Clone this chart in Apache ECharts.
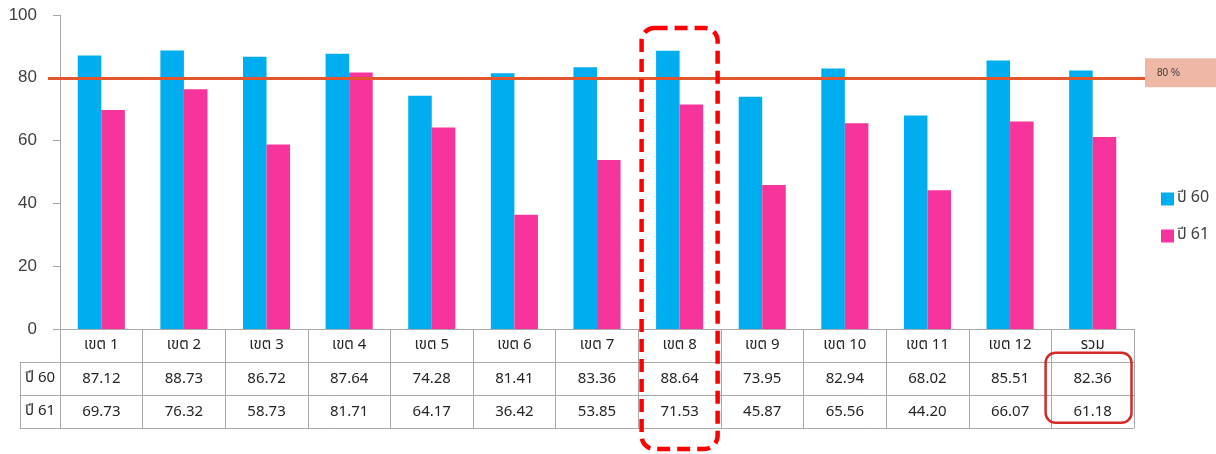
<!DOCTYPE html>
<html>
<head>
<meta charset="utf-8">
<script src="https://cdn.jsdelivr.net/npm/echarts@6/dist/echarts.min.js"></script>
<style>
  html, body { margin: 0; padding: 0; background: #fff; }
  #chart { width: 1216px; height: 454px; }
</style>
</head>
<body>
<div id="chart"></div>
<script>
// Zones and yearly percentages
const categories = ['เขต 1', 'เขต 2', 'เขต 3', 'เขต 4', 'เขต 5', 'เขต 6', 'เขต 7',
                    'เขต 8', 'เขต 9', 'เขต 10', 'เขต 11', 'เขต 12', 'รวม'];
const seriesNames = ['ปี 60', 'ปี 61'];
const values60 = [87.12, 88.73, 86.72, 87.64, 74.28, 81.41, 83.36, 88.64, 73.95, 82.94, 68.02, 85.51, 82.36];
const values61 = [69.73, 76.32, 58.73, 81.71, 64.17, 36.42, 53.85, 71.53, 45.87, 65.56, 44.20, 66.07, 61.18];
const targetValue = 80;
const targetLabel = '80 %';
const yTicks = [0, 20, 40, 60, 80, 100];

const thaiFont = "Tahoma, 'Noto Sans Thai', 'Noto Sans', 'DejaVu Sans', sans-serif";
const numFont = "'Noto Sans', Tahoma, sans-serif";
const border = '#A9A9A9';
const rowH = 33;

const chart = echarts.init(document.getElementById('chart'), null, { renderer: 'canvas' });

// One x axis per table row, stacked below the plot with offsets
function tableRow(data, offset, gridIndex, showTicks, tickLen) {
  return {
    type: 'category',
    gridIndex: gridIndex,
    position: 'bottom',
    offset: offset,
    data: data,
    axisLine: { show: true, onZero: false, lineStyle: { color: border, width: 1 } },
    axisTick: { show: showTicks, interval: 0, length: tickLen, lineStyle: { color: border, width: 1 } },
    axisLabel: {
      show: true, interval: 0, margin: 0,
      lineHeight: rowH, height: rowH,
      fontFamily: gridIndex === 0 ? numFont : thaiFont,
      fontSize: 15, color: '#262626'
    },
    splitLine: { show: false }
  };
}

const fmt = v => v.toFixed(2);

const option = {
  animation: false,
  backgroundColor: '#ffffff',
  grid: [
    { left: 60, right: 82, top: 15, bottom: 125, containLabel: false },
    { left: 20, width: 40, top: 15, bottom: 125, containLabel: false }
  ],
  legend: {
    orient: 'vertical',
    left: 1156,
    top: 186,
    itemWidth: 13,
    itemHeight: 13,
    itemGap: 21,
    icon: 'rect',
    textStyle: { fontFamily: thaiFont, fontSize: 16, color: '#404040', padding: [0, 0, 0, -2] },
    data: seriesNames
  },
  xAxis: [
    // header row (zone names) + vertical cell borders
    Object.assign(tableRow(categories, 0, 0, true, rowH * 3), {
      axisLabel: { show: true, interval: 0, margin: 0, lineHeight: rowH, height: rowH,
                   fontFamily: thaiFont, fontSize: 15, color: '#262626' }
    }),
    tableRow(values60.map(fmt), rowH, 0, false, 0),
    tableRow(values61.map(fmt), rowH * 2, 0, false, 0),
    Object.assign(tableRow(new Array(categories.length).fill(''), rowH * 3, 0, false, 0),
                  { axisLabel: { show: false } }),
    // row-title column
    tableRow([seriesNames[0]], rowH, 1, true, rowH * 2),
    tableRow([seriesNames[1]], rowH * 2, 1, false, 0),
    Object.assign(tableRow([''], rowH * 3, 1, false, 0), { axisLabel: { show: false } })
  ],
  yAxis: [
    {
      type: 'value',
      gridIndex: 0,
      min: 0, max: 100, interval: 20,
      axisLine: { show: true, lineStyle: { color: '#A6A6A6', width: 1 } },
      axisTick: { show: true, length: 7, lineStyle: { color: '#A6A6A6' } },
      axisLabel: {
        margin: 23, fontFamily: "'Liberation Sans', Arial, sans-serif", fontSize: 17, color: '#404040',
        formatter: v => (yTicks.indexOf(v) >= 0 ? String(v) : '')
      },
      splitLine: { show: false }
    },
    { type: 'value', gridIndex: 1, show: false, min: 0, max: 100 }
  ],
  series: [
    {
      name: seriesNames[0],
      type: 'bar',
      xAxisIndex: 0, yAxisIndex: 0,
      data: values60,
      barWidth: '28.5%',
      barGap: '0%',
      itemStyle: { color: '#00AEEF' },
      markLine: {
        silent: true,
        symbol: 'none',
        lineStyle: { color: '#E4572E', width: 3, type: 'solid' },
        label: {
          show: true,
          position: 'end',
          distance: 0,
          formatter: targetLabel,
          backgroundColor: '#EFB8A6',
          width: 62,
          align: 'left',
          padding: [10, 0, 9, 12],
          fontSize: 10,
          color: '#3a3a3a',
          fontFamily: "'Liberation Sans', Arial, sans-serif",
          offset: [0, -5]
        },
        data: [[{ yAxis: targetValue, x: 48 }, { yAxis: targetValue, x: 1145 }]]
      }
    },
    {
      name: seriesNames[1],
      type: 'bar',
      xAxisIndex: 0, yAxisIndex: 0,
      data: values61,
      barWidth: '28.5%',
      itemStyle: { color: '#F7349B' }
    }
  ]
};

chart.setOption(option);

// Highlight frames around zone 8 and the total column, placed from the axis scale
const i8 = categories.indexOf('เขต 8');
const iAll = categories.indexOf('รวม');
const c8 = chart.convertToPixel({ xAxisIndex: 0 }, i8);
const band = chart.convertToPixel({ xAxisIndex: 0 }, i8 + 1) - c8;
const cAll = chart.convertToPixel({ xAxisIndex: 0 }, iAll);
const y0 = chart.convertToPixel({ yAxisIndex: 0 }, 0);

chart.setOption({
  graphic: [
    {
      type: 'rect', silent: true, z: 100,
      shape: { x: c8 - band * 0.46, y: 28, width: band * 0.92, height: 421, r: 13 },
      style: { fill: 'none', stroke: '#FF0000', lineWidth: 4.5, lineDash: [13, 7] }
    },
    {
      type: 'rect', silent: true, z: 100,
      shape: { x: cAll - band * 0.57, y: y0 + rowH * 0.72, width: band * 1.04, height: rowH * 2.12, r: 10 },
      style: { fill: 'none', stroke: '#D42A2A', lineWidth: 2.5 }
    }
  ]
});
</script>
</body>
</html>
